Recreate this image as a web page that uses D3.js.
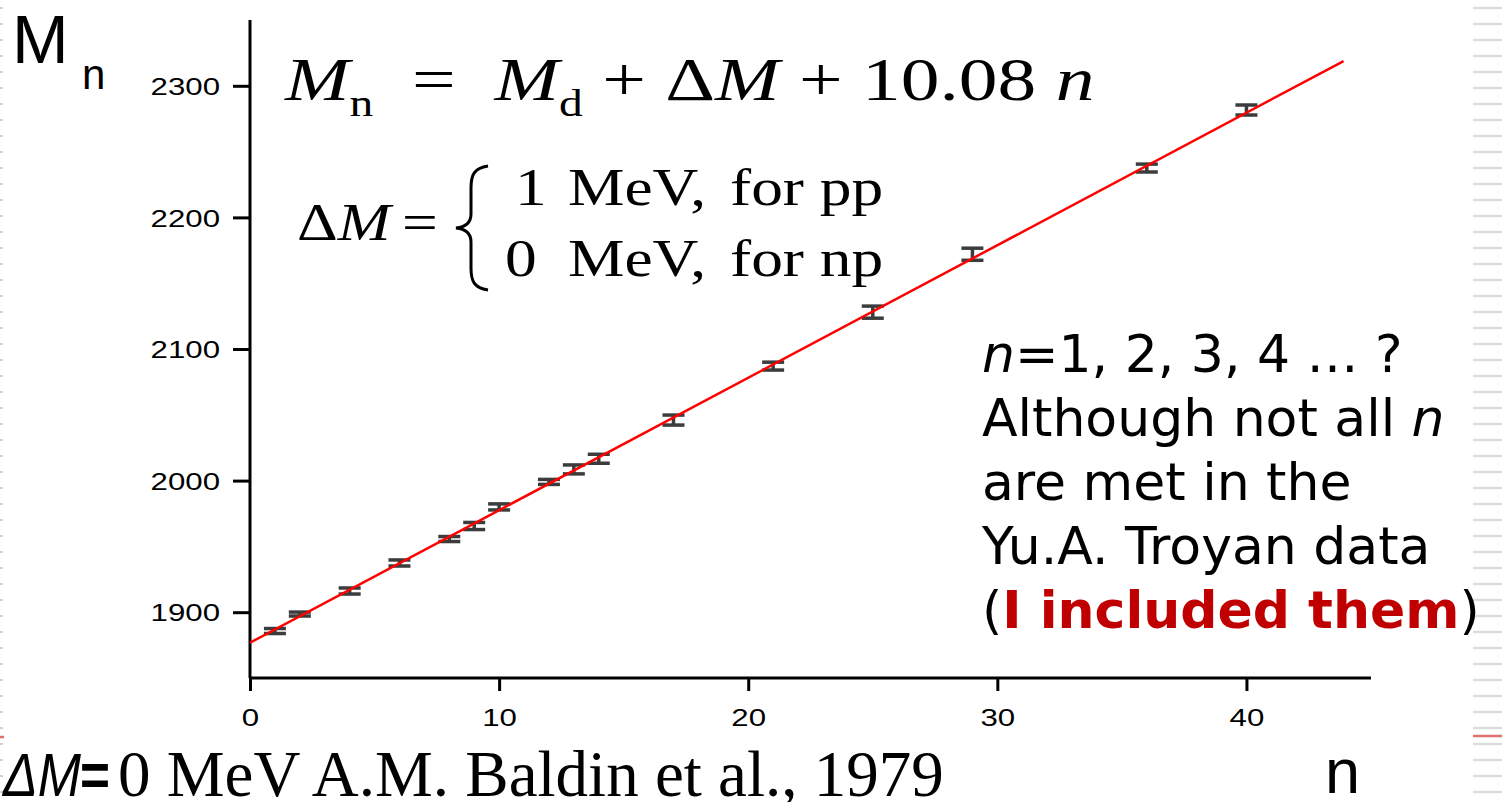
<!DOCTYPE html>
<html>
<head>
<meta charset="utf-8">
<script src="https://d3js.org/d3.v7.min.js"></script>
<style>
  html, body { margin: 0; padding: 0; background: #fff; }
  svg { display: block; }
</style>
</head>
<body>
<div id="chart"></div>
<script>

// data
var nValues    = [1, 2, 4, 6, 8, 9, 10, 12, 13, 14, 17, 21, 25, 29, 36, 40];
var massValues = [1885.7, 1898.6, 1916.1, 1937.4, 1955.6, 1965.5, 1980.0, 1999.0,
                  2008.5, 2016.6, 2046.0, 2087.0, 2128.0, 2172.0, 2237.5, 2281.6];
var errValues  = [1.9, 1.5, 2.3, 2.3, 1.9, 2.7, 2.3, 1.9, 3.4, 3.4, 3.8, 3.0, 4.6, 4.6, 3.0, 3.8];

// fitted line end points
var fitN = [0, 43.9];
var fitM = [1876.8, 2318.8];

var xMajor = [0, 10, 20, 30, 40];
var xMinor = [5, 15, 25, 35, 45];
var yMajor = [1900, 2000, 2100, 2200, 2300];
var yMinor = [1850, 1950, 2050, 2150, 2250, 2350];

var W = 1502, H = 802;

var svg = d3.select("#chart")
  .append("svg")
    .attr("width", W)
    .attr("height", H);

// slide decorations (background dashes)
var dashY = d3.range(8, H, 16);
svg.append("g").selectAll("line.r")
  .data(dashY).enter().append("line")
    .attr("x1", 1473).attr("x2", W)
    .attr("y1", function(d) { return d; }).attr("y2", function(d) { return d; })
    .attr("stroke", "#dcdcdc").attr("stroke-width", 2.5);
svg.append("g").selectAll("line.l")
  .data(dashY).enter().append("line")
    .attr("x1", 0).attr("x2", 3)
    .attr("y1", function(d) { return d; }).attr("y2", function(d) { return d; })
    .attr("stroke", "#cfcfcf").attr("stroke-width", 2);
svg.append("line").attr("x1", 1473).attr("x2", W).attr("y1", 736).attr("y2", 736)
  .attr("stroke", "#e07070").attr("stroke-width", 2.5);
svg.append("line").attr("x1", 0).attr("x2", 4).attr("y1", 737).attr("y2", 737)
  .attr("stroke", "#e07070").attr("stroke-width", 2.5);

var x = d3.scaleLinear().domain([0, 45]).range([250, 1371]);
var y = d3.scaleLinear().domain([1850, 2350]).range([678, 20]);

var SX = 1.3; // the plot picture is stretched sideways

// y axis
var gy = svg.append("g").attr("transform", "translate(" + x(0) + ",0)");
gy.call(d3.axisLeft(y).tickValues(yMinor).tickSize(8).tickFormat(""));
gy.call(d3.axisLeft(y).tickValues(yMajor).tickSize(17).tickSizeOuter(0)
  .tickPadding(0).tickFormat(d3.format("d")));
gy.selectAll("path.domain").attr("d", "M0," + y(1850) + "V" + y(2350));

// x axis
var gx = svg.append("g").attr("transform", "translate(0," + y(1850) + ")");
gx.call(d3.axisBottom(x).tickValues(xMinor).tickSize(8).tickFormat(""));
gx.call(d3.axisBottom(x).tickValues(xMajor).tickSize(13).tickSizeOuter(0)
  .tickPadding(0).tickFormat(d3.format("d")));
gx.selectAll("path.domain").attr("d", "M" + x(0) + ",0H" + x(45));

svg.selectAll(".domain, .tick line")
  .attr("stroke", "#000").attr("stroke-width", 3);

gy.selectAll(".tick text")
  .attr("x", -30 / SX)
  .attr("dy", "0.36em")
  .attr("transform", "scale(" + SX + ",1)")
  .style("font-family", "'Liberation Sans', Arial, sans-serif")
  .style("font-size", "24px")
  .attr("fill", "#000");

gx.selectAll(".tick text")
  .attr("y", 31)
  .attr("dy", "0.71em")
  .attr("transform", "scale(" + SX + ",1)")
  .style("font-family", "'Liberation Sans', Arial, sans-serif")
  .style("font-size", "24px")
  .attr("fill", "#000");

// error bars
var pts = nValues.map(function(n, i) { return { n: n, m: massValues[i], e: errValues[i] }; });
var eb = svg.append("g").attr("stroke", "#3c3c3c").attr("stroke-width", 3.5);
eb.selectAll("line.v").data(pts).enter().append("line")
  .attr("x1", function(d) { return x(d.n); }).attr("x2", function(d) { return x(d.n); })
  .attr("y1", function(d) { return y(d.m - d.e); }).attr("y2", function(d) { return y(d.m + d.e); });
eb.selectAll("line.t").data(pts).enter().append("line")
  .attr("x1", function(d) { return x(d.n) - 11; }).attr("x2", function(d) { return x(d.n) + 11; })
  .attr("y1", function(d) { return y(d.m + d.e); }).attr("y2", function(d) { return y(d.m + d.e); });
eb.selectAll("line.b").data(pts).enter().append("line")
  .attr("x1", function(d) { return x(d.n) - 11; }).attr("x2", function(d) { return x(d.n) + 11; })
  .attr("y1", function(d) { return y(d.m - d.e); }).attr("y2", function(d) { return y(d.m - d.e); });

// fit line
svg.append("path")
  .datum(fitN.map(function(n, i) { return { n: n, m: fitM[i] }; }))
  .attr("fill", "none")
  .attr("stroke", "#ff0000")
  .attr("stroke-width", 2.5)
  .attr("d", d3.line()
    .x(function(d) { return x(d.n); })
    .y(function(d) { return y(d.m); }));

// formula
var serif = "'Liberation Serif', 'Times New Roman', serif";
var f = svg.append("text")
  .attr("transform", "translate(285,100) scale(1.25,1)")
  .style("font-family", serif).style("font-size", "62px").attr("fill", "#000");
f.append("tspan").style("font-style", "italic").text("M");
f.append("tspan").attr("dy", 16).style("font-size", "38px").text("n");
f.append("tspan").attr("dy", -16).text("\u00a0\u00a0=\u00a0\u00a0");
f.append("tspan").style("font-style", "italic").text("M");
f.append("tspan").attr("dy", 16).style("font-size", "38px").text("d");
f.append("tspan").attr("dy", -16).text("\u00a0+\u00a0\u0394");
f.append("tspan").style("font-style", "italic").text("M");
f.append("tspan").text("\u00a0+\u00a010.08\u00a0");
f.append("tspan").style("font-style", "italic").text("n");

function serifText(str, tx, ty, size, italic) {
  return svg.append("text")
    .attr("transform", "translate(" + tx + "," + ty + ") scale(1.22,1)")
    .style("font-family", serif).style("font-size", size + "px")
    .style("font-style", italic ? "italic" : "normal")
    .attr("fill", "#000").text(str);
}
var dm = serifText("\u0394", 297, 240, 52, false);
dm.append("tspan").style("font-style", "italic").text("M");
serifText("=", 402, 240, 52, false);
serifText("1", 515, 205, 52, false);
serifText("MeV,", 568, 205, 52, false);
serifText("for pp", 730, 205, 52, false);
serifText("0", 505, 276, 52, false);
serifText("MeV,", 568, 276, 52, false);
serifText("for np", 730, 276, 52, false);

svg.append("path")
  .attr("d", "M488,166 C474,168 471,175 471,188 L471,214 C471,222 466,227 456,228 " +
             "C466,229 471,234 471,242 L471,268 C471,281 474,288 488,290")
  .attr("fill", "none").attr("stroke", "#000").attr("stroke-width", 3);

// axis titles
var sans = "'Liberation Sans', Arial, sans-serif";
svg.append("text").attr("x", 12).attr("y", 63)
  .style("font-family", sans).style("font-size", "68px").attr("fill", "#000").text("M");
svg.append("text").attr("x", 82).attr("y", 89)
  .style("font-family", sans).style("font-size", "42px").attr("fill", "#000").text("n");
svg.append("text").attr("x", 1325).attr("y", 793)
  .style("font-family", sans).style("font-size", "63px").attr("fill", "#000").text("n");

// bottom caption
svg.append("text").attr("x", 3).attr("y", 796)
  .attr("textLength", 78).attr("lengthAdjust", "spacingAndGlyphs")
  .style("font-family", sans).style("font-size", "62px").style("font-style", "italic")
  .attr("fill", "#000").text("\u0394M");
svg.append("text").attr("x", 80).attr("y", 796)
  .attr("textLength", 30).attr("lengthAdjust", "spacingAndGlyphs")
  .style("font-family", sans).style("font-size", "62px").style("font-weight", "bold")
  .attr("fill", "#000").text("=");
svg.append("text").attr("x", 118).attr("y", 796)
  .style("font-family", serif).style("font-size", "65px")
  .attr("fill", "#000").text("0 MeV A.M. Baldin et al., 1979");

// note on the right
var note = "'DejaVu Sans', Verdana, sans-serif";
var lines = svg.append("g")
  .style("font-family", note).style("font-size", "52px").attr("fill", "#000");
var l1 = lines.append("text").attr("x", 982).attr("y", 372);
l1.append("tspan").style("font-style", "italic").text("n");
l1.append("tspan").text("=1, 2, 3, 4 \u2026 ?");
var l2 = lines.append("text").attr("x", 982).attr("y", 436);
l2.append("tspan").text("Although not all ");
l2.append("tspan").style("font-style", "italic").text("n");
lines.append("text").attr("x", 982).attr("y", 500).text("are met in the");
lines.append("text").attr("x", 982).attr("y", 564).text("Yu.A. Troyan data");
var l5 = lines.append("text").attr("x", 982).attr("y", 628);
l5.append("tspan").text("(");
l5.append("tspan").style("font-weight", "bold").attr("fill", "#c00000").text("I included them");
l5.append("tspan").text(")");

</script>
</body>
</html>
